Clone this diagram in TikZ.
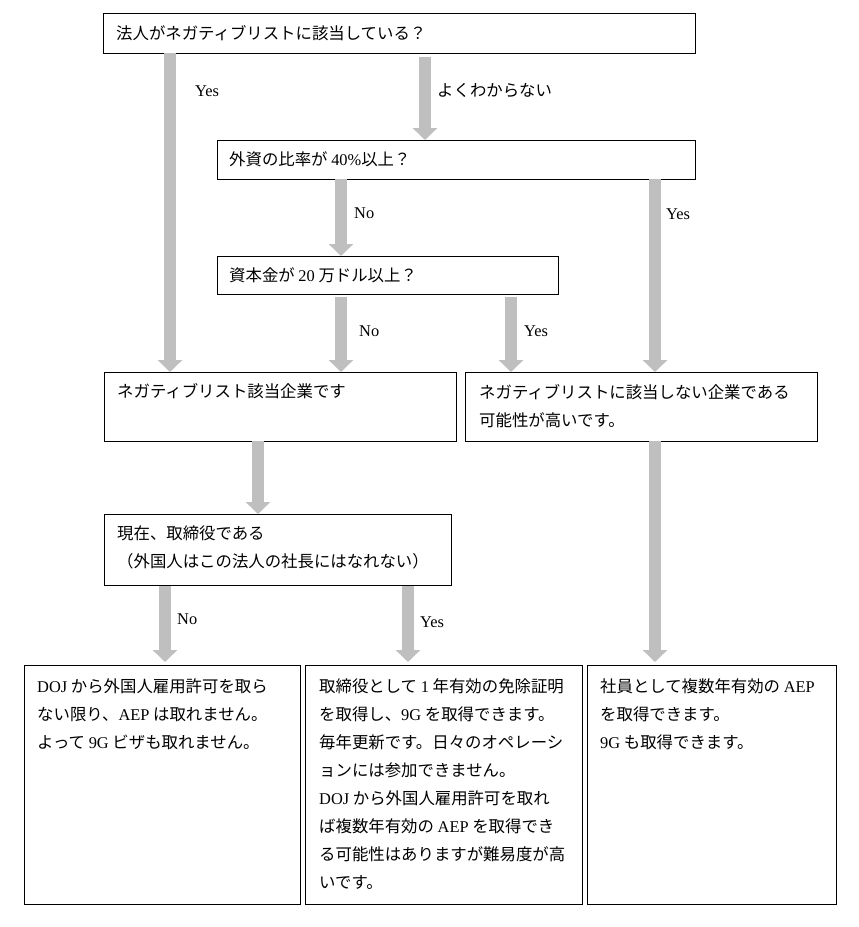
\documentclass[tikz,border=0pt]{standalone}
\usepackage{fontspec}
\setmainfont{Noto Sans CJK JP}
\newfontfamily\latfont{Liberation Serif}
\newcommand\ltn[1]{{\latfont #1}}
\usetikzlibrary{arrows.meta,fit}
\definecolor{arrgray}{HTML}{BFBFBF}
\begin{document}
\begin{tikzpicture}[x=1pt,y=-1pt,
  box/.style={draw, line width=1pt, inner sep=0pt, outer sep=0pt},
  arr/.style={draw=arrgray, line width=12pt, -{Triangle[width=24pt,length=12pt]}},
  txt/.style={anchor=base west, inner sep=0pt, font=\fontsize{16.4}{28}\selectfont},
  lbl/.style={txt}]
\useasboundingbox (0,0) rectangle (859,927);
% boxes
\node[box, fit={(103,13) (695,53)}] (A) {};
\node[box, fit={(217,140) (695,179)}] (B) {};
\node[box, fit={(217,256) (558,294)}] (C) {};
\node[box, fit={(104,372) (456,441)}] (D) {};
\node[box, fit={(465,372) (817,441)}] (E) {};
\node[box, fit={(104,514) (451,585)}] (F) {};
\node[box, fit={(24,665) (300,904)}] (G) {};
\node[box, fit={(305,665) (582,904)}] (H) {};
\node[box, fit={(587,665) (836,904)}] (I) {};
% x positions of connectors
\coordinate (x1) at (170,0);
\coordinate (x2) at (425,0);
\coordinate (x3) at (341,0);
\coordinate (x4) at (655,0);
\coordinate (x5) at (511,0);
\coordinate (x6) at (258,0);
\coordinate (x7) at (165,0);
\coordinate (x8) at (408,0);
% connectors
\draw[arr] (A.south -| x1) -- (D.north -| x1);
\draw[arr, shorten <=4pt] (A.south -| x2) -- (B.north -| x2);
\draw[arr] (B.south -| x3) -- (C.north -| x3);
\draw[arr] (B.south -| x4) -- (E.north -| x4);
\draw[arr, shorten <=3pt] (C.south -| x3) -- (D.north -| x3);
\draw[arr, shorten <=3pt] (C.south -| x5) -- (E.north -| x5);
\draw[arr] (D.south -| x6) -- (F.north -| x6);
\draw[arr, shorten <=1pt, shorten >=3pt] (F.south -| x7) -- (G.north -| x7);
\draw[arr, shorten <=1pt, shorten >=3pt] (F.south -| x8) -- (H.north -| x8);
\draw[arr, shorten >=3pt] (E.south -| x4) -- (I.north -| x4);
% labels
\node[lbl] (l1) at (195,96) {\ltn{Yes}};
\node[lbl] (l2) at (437,96) {よくわからない};
\node[lbl] (l3) at (354,218) {\ltn{No}};
\node[lbl] (l4) at (666,219) {\ltn{Yes}};
\node[lbl] (l5) at (359,336) {\ltn{No}};
\node[lbl] (l6) at (524,336) {\ltn{Yes}};
\node[lbl] (l7) at (177,624) {\ltn{No}};
\node[lbl] (l8) at (420,627) {\ltn{Yes}};
% box texts
\node[txt] (tA) at (116,39) {法人がネガティブリストに該当している？};
\node[txt] (tB) at (229,165) {外資の比率が \ltn{40\%}以上？};
\node[txt] (tC) at (229,281) {資本金が \ltn{20} 万ドル以上？};
\node[txt] (tD) at (117,397) {ネガティブリスト該当企業です};
\foreach \t [count=\i from 0] in {ネガティブリストに該当しない企業である, 可能性が高いです。}
  \node[txt] (tE\i) at (479,{398+28*\i}) {\t};
\foreach \t [count=\i from 0] in {現在、取締役である, （外国人はこの法人の社長にはなれない）}
  \node[txt] (tF\i) at (117,{539+28*\i}) {\t};
\foreach \t [count=\i from 0] in {\ltn{DOJ} から外国人雇用許可を取ら, ない限り、\ltn{AEP} は取れません。, よって \ltn{9G} ビザも取れません。}
  \node[txt] (tG\i) at (37,{692+28*\i}) {\t};
\foreach \t [count=\i from 0] in {取締役として \ltn{1} 年有効の免除証明, を取得し、\ltn{9G} を取得できます。, 毎年更新です。日々のオペレーシ, ョンには参加できません。, \ltn{DOJ} から外国人雇用許可を取れ, ば複数年有効の \ltn{AEP} を取得でき, る可能性はありますが難易度が高, いです。}
  \node[txt] (tH\i) at (319,{692+28*\i}) {\t};
\foreach \t [count=\i from 0] in {社員として複数年有効の \ltn{AEP}, を取得できます。, \ltn{9G} も取得できます。}
  \node[txt] (tI\i) at (600,{692+28*\i}) {\t};
\end{tikzpicture}
\end{document}
